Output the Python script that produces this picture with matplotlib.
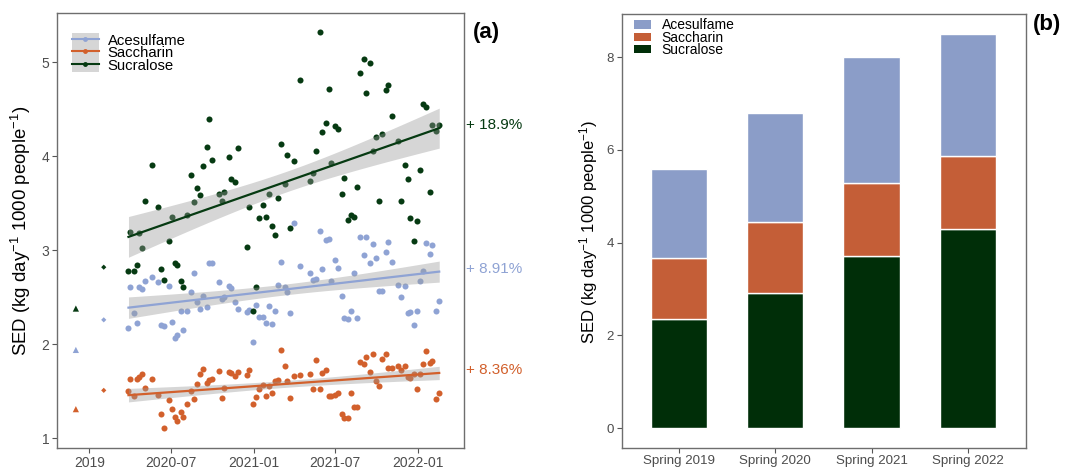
import numpy as np
import pandas as pd
import matplotlib
matplotlib.use('Agg')
import matplotlib.pyplot as plt
import matplotlib.dates as mdates
import matplotlib.transforms as mtransforms
from matplotlib.patches import Patch
from matplotlib.lines import Line2D
from matplotlib.legend_handler import HandlerTuple

plt.rcParams['font.family'] = ['Liberation Sans', 'DejaVu Sans']
plt.rcParams['mathtext.fontset'] = 'custom'
plt.rcParams['mathtext.rm'] = 'Liberation Sans'
plt.rcParams['mathtext.it'] = 'Liberation Sans:italic'
plt.rcParams['mathtext.default'] = 'regular'

# ---------------- data ----------------
sweeteners = ['Acesulfame', 'Saccharin', 'Sucralose']
point_colors = ['#8FA3D4', '#D2602C', '#063A12']
bar_colors = ['#8B9DC8', '#C45E37', '#002E08']

sample_dates = [
    '2020-03-28', '2020-04-01', '2020-04-09', '2020-04-16', '2020-04-21', '2020-04-27', '2020-05-04', '2020-05-19',
    '2020-06-02', '2020-06-09', '2020-06-15', '2020-06-26', '2020-07-02', '2020-07-09', '2020-07-14', '2020-07-22',
    '2020-07-28', '2020-08-06', '2020-08-14', '2020-08-20', '2020-08-27', '2020-09-02', '2020-09-09', '2020-09-18',
    '2020-09-22', '2020-09-29', '2020-10-16', '2020-10-23', '2020-10-27', '2020-11-07', '2020-11-12', '2020-11-19',
    '2020-11-27', '2020-12-16', '2020-12-22', '2020-12-31', '2021-01-06', '2021-01-13', '2021-01-21', '2021-01-28',
    '2021-02-03', '2021-02-10', '2021-02-17', '2021-02-24', '2021-03-03', '2021-03-10', '2021-03-16', '2021-03-23',
    '2021-03-30', '2021-04-13', '2021-05-05', '2021-05-12', '2021-05-19', '2021-05-27', '2021-06-02', '2021-06-10',
    '2021-06-17', '2021-06-22', '2021-06-30', '2021-07-08', '2021-07-15', '2021-07-21', '2021-07-29', '2021-08-04',
    '2021-08-12', '2021-08-18', '2021-08-25', '2021-09-02', '2021-09-08', '2021-09-15', '2021-09-23', '2021-09-30',
    '2021-10-06', '2021-10-13', '2021-10-21', '2021-10-27', '2021-11-04', '2021-11-17', '2021-11-24', '2021-12-02',
    '2021-12-09', '2021-12-14', '2021-12-23', '2021-12-29', '2022-01-05', '2022-01-12', '2022-01-18', '2022-01-27',
    '2022-02-02', '2022-02-10', '2022-02-17']

acesulfame = [
    2.17, 2.61, 2.33, 2.23, 2.61, 2.59, 2.67, 2.72, 2.66, 2.21, 2.19, 2.62, 2.24, 2.07, 2.10, 2.35,
    2.15, 2.35, 2.56, 2.76, 2.45, 2.38, 2.51, 2.40, 2.86, 2.86, 2.66, 2.48, 2.50, 2.62, 2.60, 2.45,
    2.38, 2.34, 2.37, 2.02, 2.42, 2.29, 2.29, 2.23, 2.41, 2.22, 2.35, 2.63, 2.88, 2.61, 2.56, 2.33,
    3.29, 2.83, 2.76, 2.68, 2.69, 3.20, 2.80, 3.11, 3.12, 2.67, 2.90, 2.81, 2.51, 2.28, 2.27, 2.35,
    2.76, 2.28, 3.14, 2.95, 3.14, 2.87, 3.07, 2.92, 2.57, 2.57, 2.98, 3.09, 2.88, 2.63, 2.50, 2.62,
    2.33, 2.34, 2.21, 2.35, 2.67, 2.78, 3.08, 2.96, 3.06, 2.35, 2.46]

saccharin = [
    1.50, 1.63, 1.45, 1.63, 1.65, 1.68, 1.53, 1.63, 1.46, 1.26, 1.11, 1.41, 1.31, 1.23, 1.18, 1.28,
    1.23, 1.37, 1.50, 1.42, 1.58, 1.68, 1.74, 1.59, 1.62, 1.63, 1.72, 1.43, 1.54, 1.71, 1.69, 1.66,
    1.70, 1.67, 1.73, 1.36, 1.44, 1.52, 1.57, 1.45, 1.56, 1.48, 1.61, 1.62, 1.94, 1.77, 1.61, 1.43,
    1.66, 1.67, 1.68, 1.52, 1.83, 1.52, 1.69, 1.73, 1.45, 1.45, 1.46, 1.48, 1.26, 1.22, 1.22, 1.48,
    1.33, 1.33, 1.81, 1.79, 1.86, 1.70, 1.90, 1.61, 1.56, 1.84, 1.90, 1.75, 1.75, 1.77, 1.73, 1.77,
    1.65, 1.64, 1.68, 1.52, 1.68, 1.79, 1.93, 1.80, 1.82, 1.42, 1.48]

sucralose = [
    2.78, 3.19, 2.78, 2.84, 3.18, 3.02, 3.52, 3.91, 3.46, 2.80, 2.68, 3.10, 3.35, 2.86, 2.84, 2.67,
    2.61, 3.38, 3.80, 3.51, 3.66, 3.59, 3.90, 4.10, 4.40, 3.96, 3.60, 3.52, 3.62, 3.99, 3.76, 3.73,
    4.09, 3.04, 3.46, 2.35, 2.61, 3.34, 3.48, 3.35, 3.60, 3.26, 3.16, 3.56, 4.13, 3.71, 4.01, 3.24,
    3.95, 4.81, 3.74, 3.82, 4.06, 5.32, 4.26, 4.35, 4.72, 3.93, 4.32, 4.29, 3.60, 3.77, 3.32, 3.38,
    3.35, 3.67, 4.89, 5.03, 4.67, 4.99, 4.06, 4.21, 3.52, 4.24, 4.70, 4.76, 4.43, 4.16, 3.52, 3.91,
    3.76, 3.34, 3.10, 3.31, 3.85, 4.56, 4.52, 3.62, 4.33, 4.27, 4.33]

# isolated early points: Spring 2019 (triangles) and Feb 2020 (small diamonds)
spring2019_date = '2019-12-02'
spring2019_values = [1.94, 1.31, 2.38]
early2020_date = '2020-02-02'
early2020_values = [2.26, 1.51, 2.82]

trend_labels = ['+ 8.91%', '+ 8.36%', '+ 18.9%']

x_tick_dates = ['2020-01-01', '2020-07-01', '2021-01-01', '2021-07-01', '2022-01-01']
x_tick_labels = ['2019', '2020-07', '2021-01', '2021-07', '2022-01']

seasons = ['Spring 2019', 'Spring 2020', 'Spring 2021', 'Spring 2022']
bar_sucralose = [2.35, 2.91, 3.72, 4.30]
bar_saccharin = [1.32, 1.54, 1.56, 1.57]
bar_acesulfame = [1.92, 2.34, 2.72, 2.62]

# ---------------- figure ----------------
fig = plt.figure(figsize=(10.69, 4.69), dpi=100)
axa = fig.add_axes([0.0533, 0.0448, 0.3807, 0.9275])
axb = fig.add_axes([0.5816, 0.0454, 0.3779, 0.9248])

tick_col = '#4D4D4D'
frame_col = '#6E6E6E'

dates = mdates.date2num(pd.to_datetime(sample_dates))
series = [acesulfame, saccharin, sucralose]

for vals, col in zip(series, point_colors):
    axa.scatter(dates, vals, s=19, color=col, linewidths=0, zorder=2)

axa.scatter([mdates.date2num(pd.Timestamp(spring2019_date))] * 3, spring2019_values,
            marker='^', s=20, c=point_colors, linewidths=0, zorder=2)
axa.scatter([mdates.date2num(pd.Timestamp(early2020_date))] * 3, early2020_values,
            marker='D', s=7, c=point_colors, linewidths=0, zorder=2)

# linear fits with 95% confidence band
xgrid = np.linspace(dates.min(), dates.max(), 100)
t_crit = 1.987
fit_ends = []
for vals, col in zip(series, point_colors):
    y = np.asarray(vals)
    b, a = np.polyfit(dates, y, 1)
    resid = y - (a + b * dates)
    n = len(y)
    s = np.sqrt(np.sum(resid ** 2) / (n - 2))
    xbar = dates.mean()
    sxx = np.sum((dates - xbar) ** 2)
    yfit = a + b * xgrid
    se = s * np.sqrt(1.0 / n + (xgrid - xbar) ** 2 / sxx)
    axa.fill_between(xgrid, yfit - t_crit * se, yfit + t_crit * se, color='#999999', alpha=0.4,
                     linewidth=0, zorder=3)
    axa.plot(xgrid, yfit, color=col, lw=1.6, zorder=4)
    fit_ends.append(yfit[-1])

trans = mtransforms.blended_transform_factory(axa.transAxes, axa.transData)
for lab, yv, col in zip(trend_labels, fit_ends, point_colors):
    axa.text(1.005, yv + 0.03, lab, transform=trans, color=col, fontsize=11, va='center', ha='left',
             clip_on=False)

axa.set_xlim(mdates.date2num(pd.Timestamp('2019-10-21')), mdates.date2num(pd.Timestamp('2022-04-13')))
axa.set_ylim(0.897, 5.524)
axa.set_xticks(mdates.date2num(pd.to_datetime(x_tick_dates)))
axa.set_xticklabels(x_tick_labels)
axa.set_yticks([1, 2, 3, 4, 5])
axa.set_ylabel('SED (kg day$^{-1}$ 1000 people$^{-1}$)', fontsize=13.4, color='black')
axa.yaxis.set_label_coords(-0.06, 0.5)

handles_a = [(Patch(facecolor='#D6D6D6', edgecolor='none'),
              Line2D([], [], color=c, lw=1.5, marker='o', ms=3.5, mew=0)) for c in point_colors]
lega = axa.legend(handles_a, sweeteners, handler_map={tuple: HandlerTuple(ndivide=1, pad=0)},
                  loc='upper left', bbox_to_anchor=(0.037, 0.955), frameon=False, fontsize=10.7,
                  handlelength=1.8, handleheight=1.1, labelspacing=-0.18, handletextpad=0.6,
                  borderpad=0, borderaxespad=0)

axa.text(1.022, 0.956, '(a)', transform=axa.transAxes, fontsize=16, fontweight='bold', va='center',
         ha='left')

# ---------------- panel b ----------------
xpos = np.arange(len(seasons))
bw = 0.585
axb.bar(xpos, bar_sucralose, width=bw, color=bar_colors[2], edgecolor='white', linewidth=1.0,
        label='Sucralose')
axb.bar(xpos, bar_saccharin, width=bw, bottom=bar_sucralose, color=bar_colors[1], edgecolor='white',
        linewidth=1.0, label='Saccharin')
bottom2 = np.array(bar_sucralose) + np.array(bar_saccharin)
axb.bar(xpos, bar_acesulfame, width=bw, bottom=bottom2, color=bar_colors[0], edgecolor='white',
        linewidth=1.0, label='Acesulfame')

axb.set_xlim(-0.595, 3.6)
axb.set_ylim(-0.425, 8.93)
axb.set_xticks(xpos)
axb.set_xticklabels(seasons)
axb.set_yticks([0, 2, 4, 6, 8])
axb.set_ylabel('SED (kg day$^{-1}$ 1000 people$^{-1}$)', fontsize=12, color='black')
axb.yaxis.set_label_coords(-0.054, 0.496)

handles_b = [Patch(facecolor=c, edgecolor='none') for c in bar_colors]
axb.legend(handles_b, sweeteners, loc='upper left', bbox_to_anchor=(0.03, 0.99), frameon=False,
           fontsize=10, handlelength=1.25, handleheight=0.55, labelspacing=-0.12, handletextpad=0.75,
           borderpad=0, borderaxespad=0)

axb.text(1.018, 0.975, '(b)', transform=axb.transAxes, fontsize=16, fontweight='bold', va='center',
         ha='left')

for ax, fs in ((axa, 10), (axb, 9.6)):
    for sp in ax.spines.values():
        sp.set_color(frame_col)
        sp.set_linewidth(1.0)
    ax.tick_params(axis='both', direction='out', length=3.5, width=0.8, color='#555555',
                   labelcolor=tick_col, labelsize=fs, pad=2)

fig.savefig('out.png', dpi=100, facecolor='white')
